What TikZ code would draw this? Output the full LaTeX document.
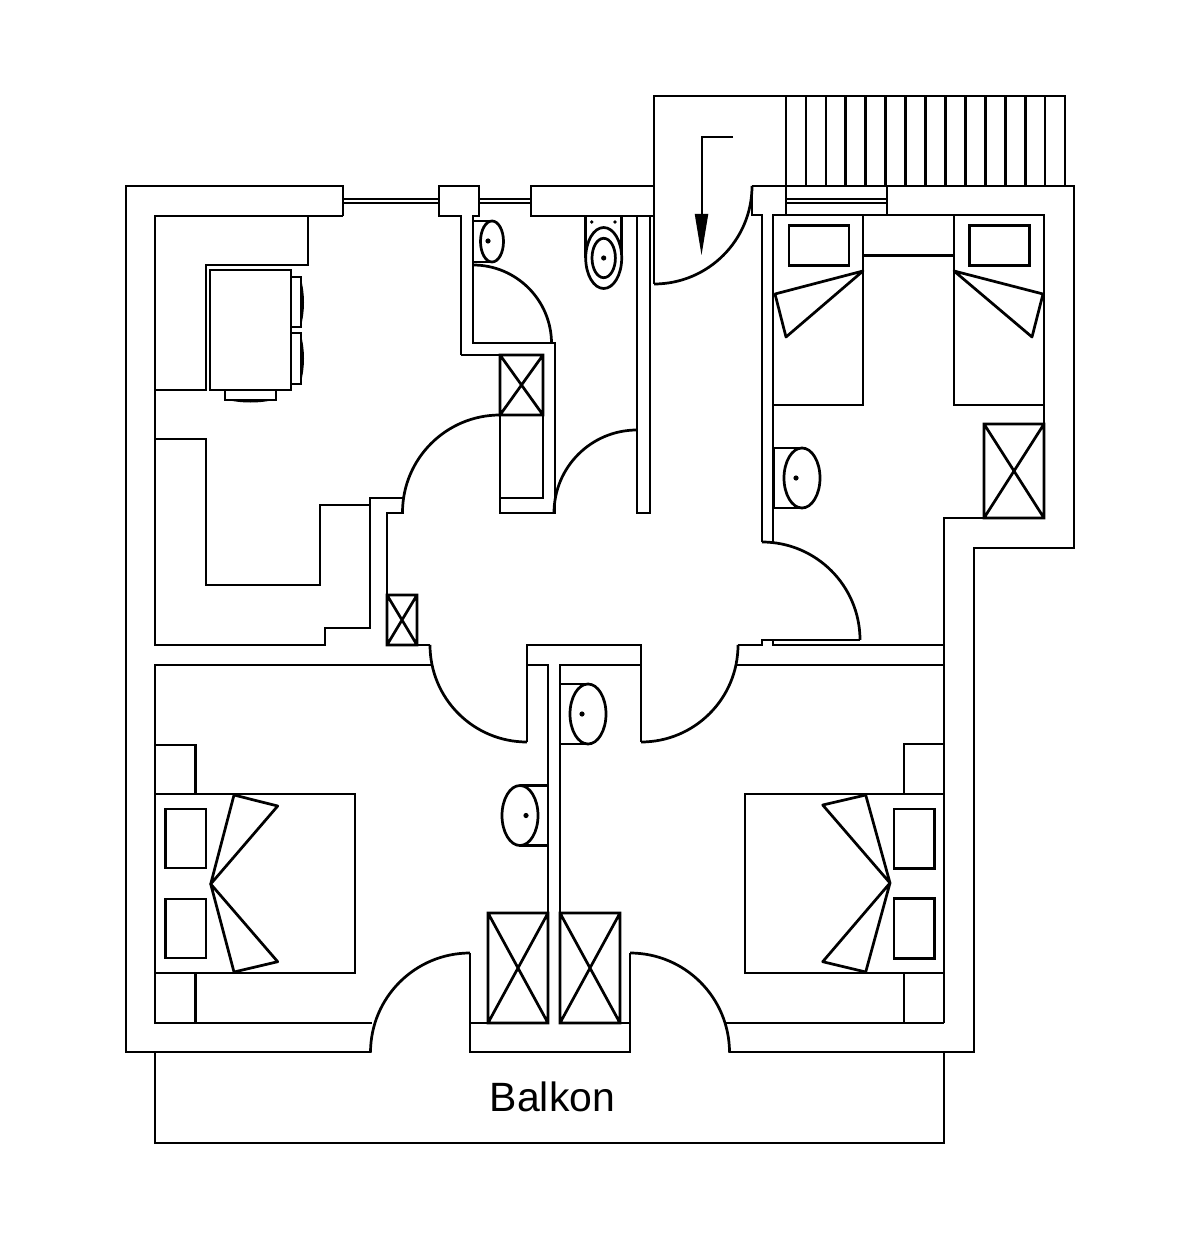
\documentclass[tikz,border=0pt]{standalone}
\usepackage{fontspec}
\setmainfont{Liberation Sans}
\tikzset{
  plan/.style={line width=1.55pt,line join=miter,line cap=butt},
  thin plan/.style={line width=1.2pt},
  wardrobe/.style={line width=1.55pt},
  solidfill/.style={fill=black,draw=none}
}
\newcommand{\xbox}[4]{\draw[wardrobe] (#1,#2) rectangle (#3,#4) (#1,#2) -- (#3,#4) (#3,#2) -- (#1,#4);}
\newcommand{\washbasin}[6]{% wall x, ellipse cx, cy, dir-end x (tangent), dot x
  \draw[plan] (#1,#3-30) -- (#2,#3-30) (#1,#3+30) -- (#2,#3+30) (#1,#3-30) -- (#1,#3+30);
  \draw[plan,fill=white] (#2,#3) ellipse [x radius=18,y radius=30];
  \fill (#6,#3) circle [radius=2.6];}
\begin{document}
\begin{tikzpicture}[x=0.02cm,y=-0.02cm]
\useasboundingbox (0,0) rectangle (1200,1260);
\begin{scope}[plan]
% outer walls
\draw (343,216) -- (343,186) -- (126,186) -- (126,1052) -- (371,1052);
\draw (752,186) -- (1074,186) -- (1074,548) -- (974,548) -- (974,1052) -- (729,1052);
% kitchen room
\draw (343,216) -- (155,216) -- (155,645) -- (325,645) -- (325,628) -- (370,628) -- (370,498) -- (403,498) -- (403,513) -- (387,513) -- (387,645) -- (430,645);
% kitchen counter
\draw (308,216) -- (308,265) -- (206,265) -- (206,390) -- (155,390);
\draw (155,439) -- (206,439) -- (206,585) -- (320,585) -- (320,505) -- (370,505);
% table and chairs
\draw (210,270) rectangle (291,390);
\draw (291,277) -- (301,277) -- (301,327) -- (291,327);
\draw (291,333) -- (301,333) -- (301,384) -- (291,384);
\draw (225,390) -- (225,400) -- (276,400) -- (276,390);
\fill (301,279) .. controls (305,295) and (305,310) .. (301,326) -- cycle;
\fill (301,335) .. controls (305,351) and (305,366) .. (301,382) -- cycle;
\fill (226,399.5) .. controls (240,403.5) and (261,403.5) .. (275,399.5) -- cycle;
% window blocks and windows
\draw (461,355) -- (461,216) -- (439,216) -- (439,186) -- (479,186) -- (479,216) -- (473,216) -- (473,343) -- (555,343) -- (555,513) -- (500,513) -- (500,355) -- (461,355);
\draw (531,186) rectangle (654,216);
\draw[thin plan] (343,199) -- (439,199) (343,203) -- (439,203) (479,199) -- (531,199) (479,203) -- (531,203) (786,199) -- (887,199) (786,203) -- (887,203);
\draw (786,186) -- (786,215) (887,186) -- (887,215);
% wc closet inner
\draw (500,355) -- (543,355) -- (543,498) -- (500,498);
% wall at bath
\draw (637,216) -- (637,513) -- (650,513) -- (650,216);
% stair hall
\draw (654,284) -- (654,96) -- (1065,96) -- (1065,186);
\foreach \s in {786,805.93,825.86,845.79,865.71,885.64,905.57,925.5,945.43,965.36,985.29,1005.21,1025.14,1045.07} \draw (\s,96) -- (\s,186);
% entry arrow
\draw (733,137) -- (702,137) -- (702,216);
\fill (694.7,214) -- (708.3,214) -- (701.5,255) -- cycle;
% right rooms
\draw (752,186) -- (752,215) -- (762,215) -- (762,542);
\draw (773,542) -- (773,215) -- (1044,215) -- (1044,518) -- (944,518) -- (944,1023);
\draw (944,1052) -- (944,1143) -- (155,1143) -- (155,1052);
\draw (738,645) -- (762,645) -- (762,640) -- (860,640);
\draw (773,640) -- (773,645) -- (944,645);
\draw (735,665) -- (944,665);
% single beds
\draw (863,215) -- (863,405) -- (773,405);
\draw (954,215) -- (954,405) -- (1044,405);
\draw (863,255.7) -- (954,255.7);
\draw (789,225.7) rectangle (849,265.7);
\draw (969.3,225.7) rectangle (1029.3,265.7);
\draw[line join=round] (863,271) -- (775,294) -- (786,337) -- cycle;
\draw[line join=round] (954,271) -- (1043,294) -- (1032,337) -- cycle;
% lower left room
\draw (431,665) -- (155,665) -- (155,1023) -- (372,1023);
\draw (155,745) -- (195.5,745) -- (195.5,794);
\draw (195.5,973) -- (195.5,1023);
\draw (155,794) rectangle (355,973);
\draw (165.7,809) rectangle (206,868);
\draw (165.7,899) rectangle (206,958);
\draw[line join=round] (210.7,884) -- (234,795) -- (277.7,806) -- cycle;
\draw[line join=round] (210.7,884) -- (234,972) -- (277.7,961.7) -- cycle;
% lower right room
\draw (726,1023) -- (944,1023);
\draw (944,744) -- (904,744) -- (904,794);
\draw (904,973) -- (904,1023);
\draw (745,794) rectangle (944,973);
\draw (894,809) rectangle (934.3,868.7);
\draw (894,898.7) rectangle (934.3,958.7);
\draw[line join=round] (890,883) -- (865.7,795) -- (822.7,805) -- cycle;
\draw[line join=round] (890,883) -- (865.7,972) -- (822.7,961.7) -- cycle;
% central partition
\draw (527,742) -- (527,645) -- (641,645) -- (641,742);
\draw (527,665) -- (548,665) -- (548,1023) -- (470,1023);
\draw (641,665) -- (560,665) -- (560,1023) -- (630,1023);
\draw (470,953) -- (470,1052) -- (630,1052) -- (630,953);
% door swings
\draw (473,265) arc [start angle=-90,end angle=0,radius=78.5];
\draw (500,415) arc [start angle=-90,end angle=-180,radius=97.5];
\draw (637,430) arc [start angle=-90,end angle=-180,radius=83];
\draw (654,284) arc [start angle=90,end angle=0,radius=98];
\draw (762,542) arc [start angle=-90,end angle=0,radius=98];
\draw (430,645) arc [start angle=180,end angle=90,radius=97];
\draw (641,742) arc [start angle=90,end angle=0,radius=97];
\draw (470,953) arc [start angle=-90,end angle=-180,radius=99.5];
\draw (630,953) arc [start angle=-90,end angle=0,radius=99.5];
% toilet
\draw (585.7,216) -- (585.7,258) (621.7,216) -- (621.7,258);
\draw[fill=white] (603.7,258) ellipse [x radius=18,y radius=30.5];
\draw (603.7,258) ellipse [x radius=11.7,y radius=19.7];
\end{scope}
\fill (603.7,258) circle [radius=2.6];
\fill (591.7,222) circle [radius=1.8];
\fill (615,222) circle [radius=1.8];
% wardrobes
\xbox{500}{355}{543}{415}
\xbox{387}{595}{417}{645}
\xbox{984}{424}{1044}{518}
\xbox{488}{913}{548}{1023}
\xbox{560}{913}{620}{1023}
% washbasins
\draw[plan] (473,221) -- (492,221) (473,262) -- (492,262);
\draw[plan,fill=white] (492,241.5) ellipse [x radius=11.5,y radius=20.5];
\fill (488,241) circle [radius=2.6];
\washbasin{774}{802}{478}{}{}{796}
\washbasin{560}{588}{714}{}{}{582}
\washbasin{548}{520}{815.5}{}{}{526}
% label
\node[inner sep=0pt,font=\fontsize{23.3pt}{28pt}\selectfont] (balkon) at (552.5,1097) {Balkon};
\end{tikzpicture}
\end{document}
